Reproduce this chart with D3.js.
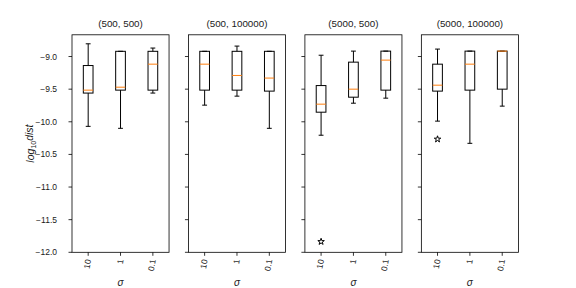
<!DOCTYPE html>
<html>
<head>
<meta charset="utf-8">
<script src="https://cdn.jsdelivr.net/npm/d3@7"></script>
<style>
  body { margin: 0; background: #fff; }
  text { font-family: "Liberation Sans", Arial, sans-serif; fill: #1a1a1a; }
</style>
</head>
<body>
<div id="chart"></div>
<script>
// panel titles = (n, m) settings
const titles = ["(500, 500)", "(500, 100000)", "(5000, 500)", "(5000, 100000)"];
const sigmaLabels = ["10", "1", "0.1"];
const yTicks = [-9.0, -9.5, -10.0, -10.5, -11.0, -11.5, -12.0];

// each box: [whisker low, q1, median, q3, whisker high]
const box500_500 = [
  [-10.07, -9.56, -9.515, -9.138, -8.805],
  [-10.10, -9.515, -9.47, -8.92, -8.92],
  [-9.56, -9.515, -9.117, -8.92, -8.87]
];
const box500_100000 = [
  [-9.745, -9.515, -9.117, -8.92, -8.92],
  [-9.607, -9.515, -9.29, -8.92, -8.84],
  [-10.10, -9.53, -9.33, -8.92, -8.92]
];
const box5000_500 = [
  [-10.206, -9.853, -9.73, -9.445, -8.98],
  [-9.715, -9.623, -9.5, -9.086, -8.917],
  [-9.638, -9.515, -9.055, -8.917, -8.917]
];
const box5000_100000 = [
  [-9.99, -9.53, -9.439, -9.117, -8.886],
  [-10.33, -9.515, -9.117, -8.917, -8.917],
  [-9.76, -9.5, -8.917, -8.917, -8.917]
];
// outliers: [sigma index, value]
const fliers500_500 = [];
const fliers500_100000 = [];
const fliers5000_500 = [[0, -11.837]];
const fliers5000_100000 = [[0, -10.267]];

const panels = [
  {title: titles[0], boxes: box500_500, fliers: fliers500_500},
  {title: titles[1], boxes: box500_100000, fliers: fliers500_100000},
  {title: titles[2], boxes: box5000_500, fliers: fliers5000_500},
  {title: titles[3], boxes: box5000_100000, fliers: fliers5000_100000}
];

const W = 576, H = 288;
const mLeft = 72, mRight = 518.4, mTop = 34.8, mBottom = 252.3;
const pw = (mRight - mLeft) / 4.6, gap = pw * 0.2;

const svg = d3.select("#chart").append("svg")
  .attr("width", W).attr("height", H);

const y = d3.scaleLinear().domain([-12, -8.667]).range([mBottom, mTop]);
const x = d3.scaleLinear().domain([0.5, 3.5]).range([0, pw]);
const boxW = x(1.3) - x(1);
const capW = boxW / 2;

panels.forEach((p, i) => {
  const g = svg.append("g")
    .attr("transform", "translate(" + (mLeft + i * (pw + gap)) + ",0)");

  // y axis ticks
  const ya = g.append("g").attr("class", "yaxis");
  yTicks.forEach(t => {
    ya.append("line")
      .attr("x1", -3.5).attr("x2", 0)
      .attr("y1", y(t)).attr("y2", y(t))
      .attr("stroke", "#000").attr("stroke-width", 0.8);
    if (i === 0) {
      ya.append("text")
        .attr("x", -15).attr("y", y(t))
        .attr("dy", "0.35em")
        .attr("text-anchor", "end")
        .style("font-size", "8.5px")
        .text(d3.format(".1f")(t));
    }
  });

  // x axis ticks
  sigmaLabels.forEach((s, j) => {
    g.append("line")
      .attr("x1", x(j + 1)).attr("x2", x(j + 1))
      .attr("y1", mBottom).attr("y2", mBottom + 3.5)
      .attr("stroke", "#000").attr("stroke-width", 0.8);
    g.append("text")
      .attr("transform", "translate(" + x(j + 1) + "," + (mBottom + 7) + ") rotate(-80)")
      .attr("text-anchor", "end")
      .attr("dy", "0.35em")
      .style("font-size", "8.5px")
      .text(s);
  });

  // boxes
  p.boxes.forEach((b, j) => {
    const cx = x(j + 1);
    const [lo, q1, med, q3, hi] = b;
    const bg = g.append("g");
    bg.append("line").attr("x1", cx).attr("x2", cx)
      .attr("y1", y(lo)).attr("y2", y(q1));
    bg.append("line").attr("x1", cx).attr("x2", cx)
      .attr("y1", y(q3)).attr("y2", y(hi));
    bg.append("line").attr("x1", cx - capW / 2).attr("x2", cx + capW / 2)
      .attr("y1", y(lo)).attr("y2", y(lo));
    bg.append("line").attr("x1", cx - capW / 2).attr("x2", cx + capW / 2)
      .attr("y1", y(hi)).attr("y2", y(hi));
    bg.append("rect")
      .attr("x", cx - boxW / 2).attr("width", boxW)
      .attr("y", y(q3)).attr("height", y(q1) - y(q3))
      .attr("fill", "none");
    bg.selectAll("line, rect").attr("stroke", "#000").attr("stroke-width", 1);
    bg.append("line").attr("x1", cx - boxW / 2).attr("x2", cx + boxW / 2)
      .attr("y1", y(med)).attr("y2", y(med))
      .attr("stroke", "#ff7f0e").attr("stroke-width", 1);
  });

  // outliers
  g.selectAll("path.flier").data(p.fliers).enter().append("path")
    .attr("class", "flier")
    .attr("d", d3.symbol(d3.symbolStar, 13))
    .attr("transform", d => "translate(" + x(d[0] + 1) + "," + y(d[1]) + ")")
    .attr("fill", "#fff").attr("stroke", "#000").attr("stroke-width", 1);

  // frame
  g.append("rect")
    .attr("x", 0).attr("y", mTop)
    .attr("width", pw).attr("height", mBottom - mTop)
    .attr("fill", "none").attr("stroke", "#000").attr("stroke-width", 0.8);

  // title
  g.append("text")
    .attr("x", pw / 2).attr("y", mTop - 8)
    .attr("text-anchor", "middle")
    .style("font-size", "9.8px")
    .text(p.title);

  // x label
  g.append("text")
    .attr("x", pw / 2).attr("y", 286)
    .attr("text-anchor", "middle")
    .style("font-size", "10px").style("font-style", "italic")
    .text("σ");
});

// y label: log_10 dist
const yl = svg.append("text")
  .attr("transform", "translate(34," + ((mTop + mBottom) / 2) + ") rotate(-90)")
  .attr("text-anchor", "middle")
  .style("font-size", "10.5px").style("font-style", "italic");
yl.append("tspan").text("log");
yl.append("tspan").attr("dy", "0.25em").style("font-size", "7px").style("font-style", "normal").text("10");
yl.append("tspan").attr("dy", "-0.25em").text("dist");
</script>
</body>
</html>
